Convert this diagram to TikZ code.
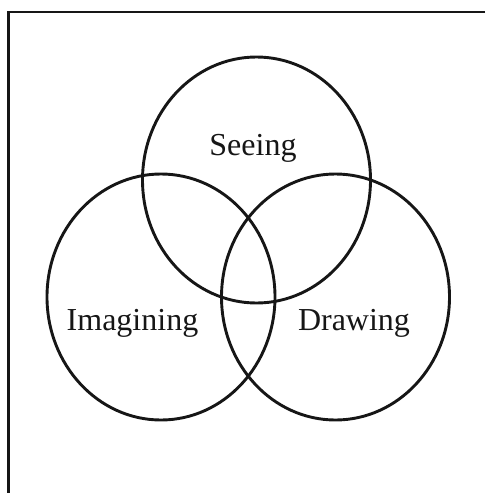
\documentclass[tikz,border=0pt]{standalone}
\usepackage{fontspec}
\setmainfont{Liberation Serif}
\usepackage{tikz}
\usetikzlibrary{
  positioning,
  shapes.geometric
}
\definecolor{VennInk}{RGB}{22,22,22}
\tikzset{
  venn/.style={
    draw=VennInk,
    ellipse,
    line width=2.9pt,
    minimum width=228pt,
    minimum height=246pt,
    inner sep=0pt
  },
  vennlabel/.style={
    text=VennInk,
    font=\fontsize{32}{38}\selectfont,
    anchor=base,
    inner sep=0pt
  },
  frameline/.style={draw=VennInk,line width=2.2pt}
}

\begin{document}
\begin{tikzpicture}[x=1pt,y=-1pt]
  \useasboundingbox (0,0) rectangle (485,493);
  \coordinate (frameTop) at (485,12);
  \coordinate (frameCorner) at (8.5,12);
  \coordinate (frameBottom) at (8.5,493);
  \draw[frameline] (frameTop) -- (frameCorner) -- (frameBottom);

  \node[venn] (seeing) at (256.5,180) {};
  \node[venn] (imagining) at (161,297) {};
  \node[venn] (drawing) at (335.5,297) {};

  \node[vennlabel] (seeingLabel) at (253,155) {Seeing};
  \node[vennlabel] (imaginingLabel) at (132.5,330) {Imagining};
  \node[vennlabel] (drawingLabel) at (354,330) {Drawing};
\end{tikzpicture}
\end{document}
